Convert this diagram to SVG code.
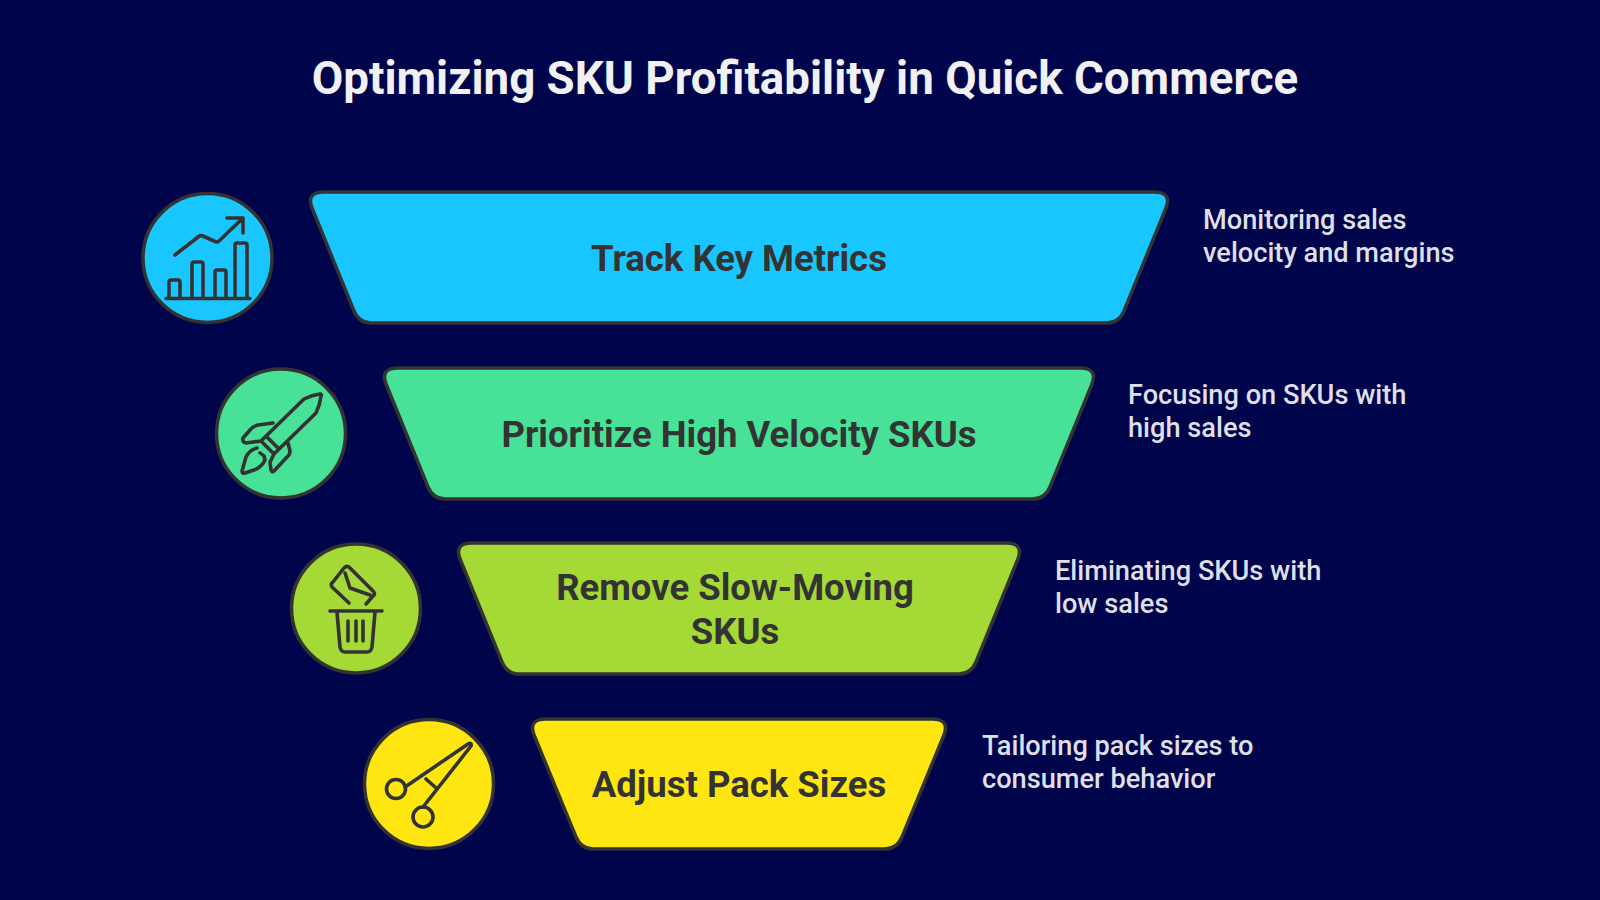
<svg xmlns="http://www.w3.org/2000/svg" width="1600" height="900" viewBox="0 0 1600 900">
<style>
text{font-family:Roboto,"Liberation Sans",sans-serif}
.title{font-size:45.700px;font-weight:700;fill:#f0f0f5;text-anchor:middle}
.lab{font-size:36.500px;font-weight:700;fill:#333;text-anchor:middle}
.desc{font-size:27.200px;font-weight:500;fill:#dfdfea}
.shape{stroke:#333;stroke-width:3.500}
.ic{fill:none;stroke:#333;stroke-width:3.600;stroke-linecap:round;stroke-linejoin:round}
</style>
<rect width="1600" height="900" fill="#00044a"/>
<text class="title" x="805" y="94">Optimizing SKU Profitability in Quick Commerce</text>
<g id="node-track">
<circle class="shape" cx="207.500" cy="258" r="64.500" fill="#1ac6ff"/>
<path class="ic" d="M166 298.500H250M169 298V282Q169 280 171 280H178Q180 280 180 282V298M192 298V264Q192 262 194 262H201Q203 262 203 264V298M215 298V272Q215 270 217 270H224Q226 270 226 272V298M235 298V245Q235 243 237 243H245Q247 243 247 245V298M175 255L198 237Q200 235 203 236L214 241Q217 243 219 241L243 218M227 218H243V233"/>
<path class="shape" fill="#1ac6ff" d="M324 192H1154Q1172 192 1166 208L1124 311Q1119 323 1107 323H371Q359 323 354 311L312 208Q306 192 324 192Z"/>
<text class="lab" x="739" y="271">Track Key Metrics</text>
<text class="desc"><tspan x="1203" y="229">Monitoring sales</tspan><tspan x="1203" y="262">velocity and margins</tspan></text>
</g>
<g id="node-prioritize">
<circle class="shape" cx="281" cy="433.500" r="64.500" fill="#47e198"/>
<path class="ic" d="M304 399Q312 395 320 394Q322 394 321 396Q320 405 316 413L274 454L261 441ZM266 436L279 449M273 423L258 425Q253 426 250 430L243 438Q242 442 246 443L261 441M288 443L290 451Q290 455 287 457L274 471Q272 473 271 470L270 462L274 454M257 448Q249 450 246 457L242 471Q242 474 245 473L254 470Q262 467 265 460L264 456Q262 454 260 453"/>
<path class="shape" fill="#47e198" d="M398 368H1080Q1098 368 1092 384L1050 487Q1045 499 1033 499H445Q433 499 428 487L386 384Q380 368 398 368Z"/>
<text class="lab" x="739" y="446.500">Prioritize High Velocity SKUs</text>
<text class="desc"><tspan x="1128" y="404">Focusing on SKUs with</tspan><tspan x="1128" y="437">high sales</tspan></text>
</g>
<g id="node-remove">
<circle class="shape" cx="356" cy="608.500" r="64.500" fill="#a5d936"/>
<path class="ic" d="M330 611H382M337 612L340 647Q341 652 345 652H367Q371 652 372 647L375 612M348 621V641M356 621V641M363 621V641M349 603L332 587Q330 584 333 582L344 568Q347 565 350 568L373 591Q376 594 373 596L366 604M345 573L350 588L370 595"/>
<path class="shape" fill="#a5d936" d="M472 543H1006Q1024 543 1018 559L976 662Q971 674 959 674H519Q507 674 502 662L460 559Q454 543 472 543Z"/>
<text class="lab"><tspan x="735" y="600">Remove Slow-Moving</tspan><tspan x="735" y="644">SKUs</tspan></text>
<text class="desc"><tspan x="1055" y="580">Eliminating SKUs with</tspan><tspan x="1055" y="613">low sales</tspan></text>
</g>
<g id="node-adjust">
<circle class="shape" cx="429" cy="784" r="64.500" fill="#ffe610"/>
<path class="ic" d="M405 787L468 744Q472 742 471 746L423 807M426 779L435 787"/>
<circle class="ic" cx="396" cy="789" r="9.500"/>
<circle class="ic" cx="423" cy="817" r="10"/>
<path class="shape" fill="#ffe610" d="M546 719H932Q950 719 944 735L902 837Q897 849 885 849H593Q581 849 576 837L534 735Q528 719 546 719Z"/>
<text class="lab" x="739" y="797">Adjust Pack Sizes</text>
<text class="desc"><tspan x="982" y="755">Tailoring pack sizes to</tspan><tspan x="982" y="788">consumer behavior</tspan></text>
</g>
</svg>
